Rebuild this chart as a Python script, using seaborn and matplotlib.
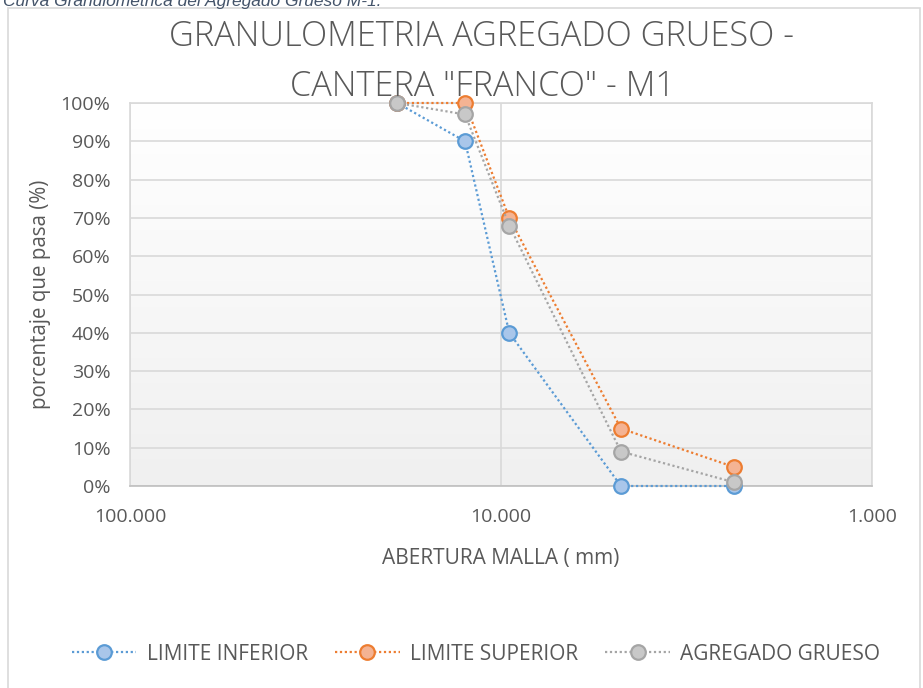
import numpy as np
import pandas as pd
import matplotlib
matplotlib.use("Agg")
import matplotlib.pyplot as plt
import seaborn as sns
from matplotlib.patches import Rectangle
from matplotlib.ticker import FuncFormatter, FixedLocator

# Sieve openings (mm) and percent passing for each curve
abertura = [19.05, 12.5, 9.5, 4.75, 2.36]
limite_inferior = [100, 90, 40, 0, 0]
limite_superior = [100, 100, 70, 15, 5]
agregado_grueso = [100, 97, 68, 9, 1]

series_names = ["LIMITE INFERIOR", "LIMITE SUPERIOR", "AGREGADO GRUESO"]
line_colors = ["#5b9bd5", "#ed7d31", "#a5a5a5"]
fill_colors = ["#a9c6ea", "#f4b393", "#c8c8c8"]

title = 'GRANULOMETRIA AGREGADO GRUESO -\nCANTERA "FRANCO" - M1'
caption = "Curva Granulométrica del Agregado Grueso M-1."

df = pd.DataFrame({
    "abertura": abertura * 3,
    "pasa": limite_inferior + limite_superior + agregado_grueso,
    "serie": [s for s in series_names for _ in abertura],
})

sns.set_theme(style="white")
plt.rcParams["font.family"] = ["Open Sans", "DejaVu Sans"]

fig = plt.figure(figsize=(9.23, 6.88), dpi=100)

# outer chart border and caption (the caption is cut at the top, as in the source)
fig.patches.append(Rectangle((8 / 923, -0.01), 912 / 923, 1 - 8 / 688 + 0.01,
                             transform=fig.transFigure, fill=False,
                             edgecolor="#d9d9d9", linewidth=1.2))
fig.text(0.003, 1 - 6 / 688, caption, ha="left", va="baseline",
         fontsize=12.5, style="italic", color="#44546a",
         family=["Liberation Sans", "DejaVu Sans"])

ax = fig.add_axes([130 / 923, 1 - 486 / 688, 742 / 923, 383 / 688])
ax.set_xscale("log")
ax.set_xlim(100, 1)
ax.set_ylim(0, 100)

# gradient background of the plot area
grad = np.linspace(0, 1, 256).reshape(-1, 1)
ax.imshow(grad, extent=[100, 1, 0, 100], aspect="auto", origin="upper",
          cmap=matplotlib.colors.LinearSegmentedColormap.from_list(
              "bg", ["#ffffff", "#f0f0f0"]), zorder=0)

for name, lc, fc in zip(series_names, line_colors, fill_colors):
    sub = df[df["serie"] == name]
    sns.lineplot(data=sub, x="abertura", y="pasa", ax=ax, sort=False,
                 color=lc, linestyle=(0, (1, 1.2)), linewidth=1.6,
                 marker="o", markersize=10.5, markerfacecolor=fc,
                 markeredgecolor=lc, markeredgewidth=1.6,
                 label=name, zorder=3, clip_on=False)

ax.xaxis.set_major_locator(FixedLocator([100, 10, 1]))
ax.xaxis.set_minor_locator(FixedLocator([]))
ax.xaxis.set_major_formatter(FuncFormatter(lambda v, p: f"{v:.3f}"))
ax.yaxis.set_major_locator(FixedLocator(range(0, 101, 10)))
ax.yaxis.set_major_formatter(FuncFormatter(lambda v, p: f"{v:.0f}%"))

ax.grid(True, color="#d9d9d9", linewidth=1.2)
ax.set_axisbelow(True)
for side, sp in ax.spines.items():
    sp.set_visible(True)
    sp.set_color("#d9d9d9")
    sp.set_linewidth(1.2)
ax.spines["bottom"].set_color("#bfbfbf")

ax.tick_params(axis="both", length=0, labelsize=14, labelcolor="#595959")
ax.tick_params(axis="x", pad=16)
ax.tick_params(axis="y", pad=14)

ax.set_xlabel("ABERTURA MALLA ( mm)", fontsize=15, color="#595959", labelpad=16)
ax.set_ylabel("porcentaje que pasa (%)", fontsize=14.8, color="#595959", labelpad=7)

fig.text(482 / 923, 1 - 19 / 688, title, ha="center", va="top", fontsize=24.7,
         color="#595959", linespacing=1.6,
         family=["Open Sans", "DejaVu Sans"], fontweight="light")

ax.legend(loc="center", bbox_to_anchor=(476 / 923, 1 - 654 / 688), bbox_transform=fig.transFigure,
          ncol=3, frameon=False, fontsize=15, labelcolor="#595959",
          handlelength=3.1, columnspacing=1.3, handletextpad=0.5)

fig.savefig("out.png", dpi=100)
